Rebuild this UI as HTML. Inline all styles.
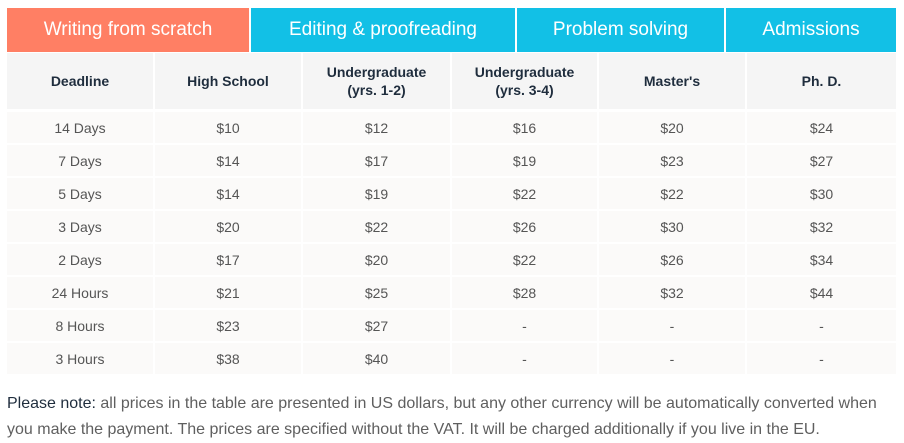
<!DOCTYPE html>
<html><head><meta charset="utf-8"><style>
body{margin:0;width:904px;height:443px;background:#fff;font-family:"Liberation Sans",sans-serif;overflow:hidden;position:relative}
.tab{position:absolute;top:8px;height:44px;line-height:44px;text-align:center;color:#fff;font-size:19px;background:#12c0e6}
.tab.active{background:#ff7f64}
.cell{position:absolute;text-align:center;box-sizing:border-box;display:flex;align-items:center;justify-content:center}
.hd{background:#f5f5f5;color:#1f2d3d;font-weight:bold;font-size:14px;line-height:18px}
.td{background:#fbfaf9;color:#555;font-size:14px}
.note{position:absolute;left:7px;top:391px;width:890px;font-size:16px;line-height:26px;color:#5f5f5f}
.note b{color:#1f2d3d;font-weight:normal}
</style></head><body>
<div class="tab active" style="left:7px;width:242px">Writing from scratch</div>
<div class="tab" style="left:251px;width:264px">Editing &amp; proofreading</div>
<div class="tab" style="left:517px;width:207px">Problem solving</div>
<div class="tab" style="left:726px;width:170px">Admissions</div>
<div id="tbl"></div>
<div class="note"><b>Please note:</b> all prices in the table are presented in US dollars, but any other currency will be automatically converted when you make the payment. The prices are specified without the VAT. It will be charged additionally if you live in the EU.</div>
<script>
const headers=["Deadline","High School","Undergraduate<br>(yrs. 1-2)","Undergraduate<br>(yrs. 3-4)","Master's","Ph. D."];
const deadlines=["14 Days","7 Days","5 Days","3 Days","2 Days","24 Hours","8 Hours","3 Hours"];
const highSchool=["$10","$14","$14","$20","$17","$21","$23","$38"];
const ug12=["$12","$17","$19","$22","$20","$25","$27","$40"];
const ug34=["$16","$19","$22","$26","$22","$28","-","-"];
const masters=["$20","$23","$22","$30","$26","$32","-","-"];
const phd=["$24","$27","$30","$32","$34","$44","-","-"];
const cols=[deadlines,highSchool,ug12,ug34,masters,phd];
const xs=[7,155,303,452,599,747,896];
const tbl=document.getElementById('tbl');
headers.forEach((h,i)=>{
 const d=document.createElement('div');d.className='cell hd';
 
 
 d.style.cssText=`left:${xs[i]}px;top:53px;width:${xs[i+1]-xs[i]-(i<5?2:0)}px;height:56px`;
 d.innerHTML=h;tbl.appendChild(d);
});
cols.forEach((c,i)=>c.forEach((v,r)=>{
 const d=document.createElement('div');d.className='cell td';
 
 
 d.style.cssText=`left:${xs[i]}px;top:${112+r*33}px;width:${xs[i+1]-xs[i]-(i<5?2:0)}px;height:31px`;
 d.textContent=v;tbl.appendChild(d);
}));
</script>
</body></html>
